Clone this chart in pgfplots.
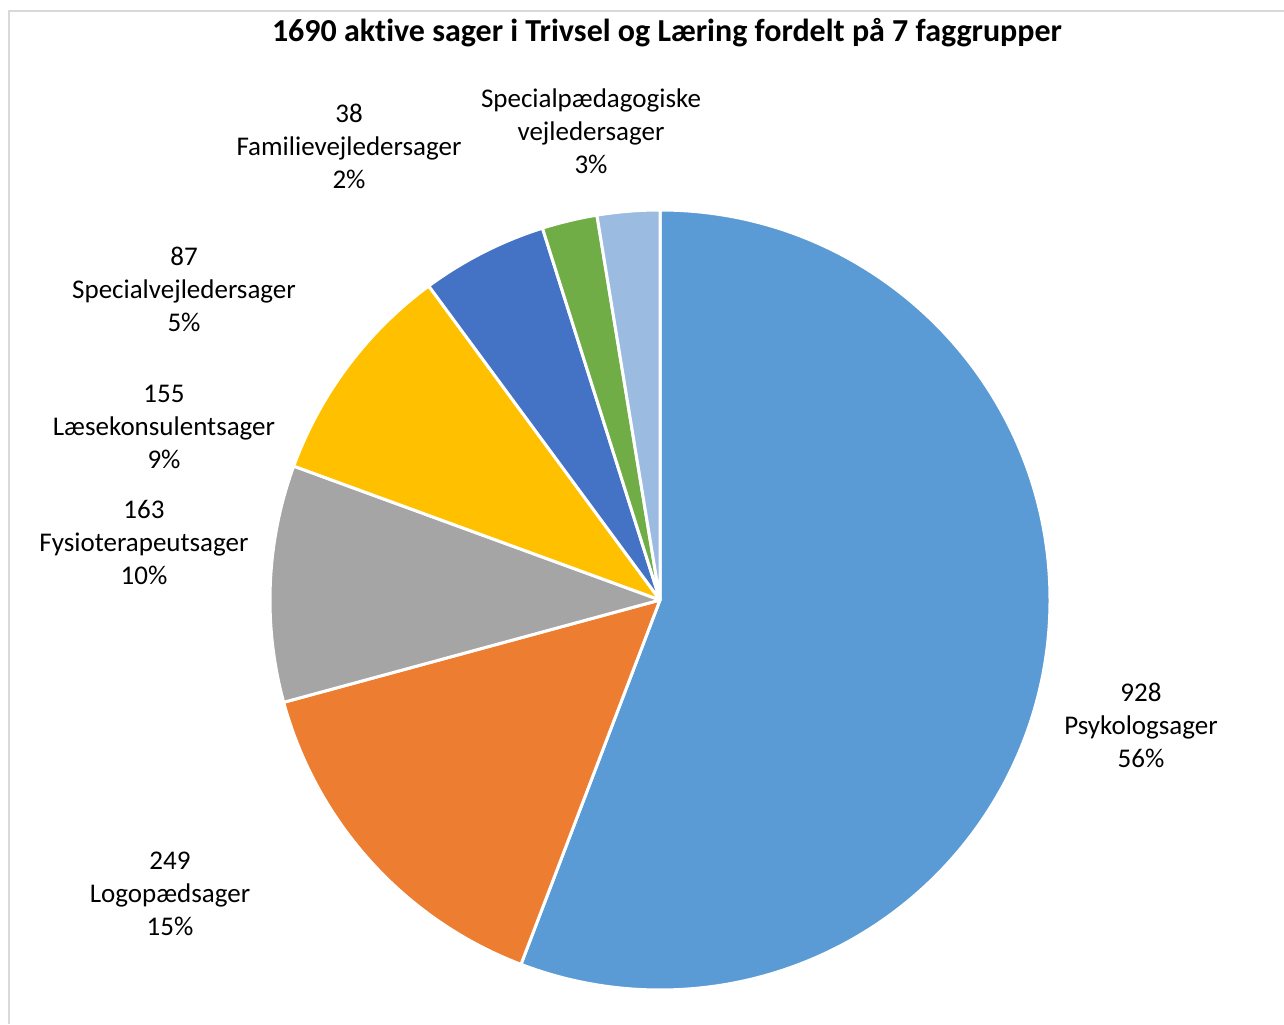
\documentclass[border=0pt]{standalone}
\usepackage{pgfplots}
\usepackage{pgfplotstable}
\pgfplotsset{compat=1.18}
\usetikzlibrary{calc}
\usepackage{fontspec}
\setmainfont{Carlito}[Ligatures=NoCommon]

\definecolor{c0}{HTML}{5B9BD5}
\definecolor{c1}{HTML}{ED7D31}
\definecolor{c2}{HTML}{A5A5A5}
\definecolor{c3}{HTML}{FFC000}
\definecolor{c4}{HTML}{4472C4}
\definecolor{c5}{HTML}{70AD47}
\definecolor{c6}{HTML}{9BBBE1}
\definecolor{frame}{HTML}{D9D9D9}

% antal sager pr. faggruppe, med uret fra kl. 12
\pgfplotstableread{
value
928
249
163
155
87
38
43
}\piedata

% slice angles
\def\total{0}
\pgfplotsforeachungrouped \i in {0,...,6}{%
  \pgfplotstablegetelem{\i}{value}\of\piedata
  \pgfmathsetmacro{\total}{\total+\pgfplotsretval}}
\def\cum{0}
\pgfplotsforeachungrouped \i in {0,...,6}{%
  \pgfplotstablegetelem{\i}{value}\of\piedata
  \pgfmathsetmacro{\a}{90-360*(\cum/\total)}
  \pgfmathsetmacro{\cum}{\cum+\pgfplotsretval}
  \pgfmathsetmacro{\b}{90-360*(\cum/\total)}
  \expandafter\xdef\csname sa\i\endcsname{\a}
  \expandafter\xdef\csname ea\i\endcsname{\b}}

\newcommand{\lbl}{\fontsize{13.5}{16.5}\selectfont}
\newcommand{\slice}[1]{%
  \fill[fill=c#1, draw=white, line width=1.5pt, line join=round]
    (axis cs:0,0) -- (axis cs:{cos(\csname sa#1\endcsname)},{sin(\csname sa#1\endcsname)})
    arc[start angle=\csname sa#1\endcsname, end angle=\csname ea#1\endcsname, radius=195pt]
    -- cycle;}

\begin{document}
\begin{tikzpicture}
\begin{axis}[
    x=195pt, y=195pt,
    xmin=-1.0, xmax=1.0, ymin=-1.0, ymax=1.0,
    hide axis, clip=false,
    name=pie,
]
\addplot[draw=none, forget plot] coordinates {(0,0)};
\slice{0}
\slice{1}
\slice{2}
\slice{3}
\slice{4}
\slice{5}
\slice{6}
\end{axis}

\begin{scope}[x=0.5pt, y=-0.5pt, shift={($(pie.center)+(-660,-600)$)}]
\useasboundingbox (0,0) rectangle (1284,1024);
\draw[frame, line width=1pt] (9,1024) -- (9,11) -- (1284,11);
\node[font=\bfseries\fontsize{16}{19}\selectfont] at (667,33) {1690 aktive sager i Trivsel og Læring fordelt på 7 faggrupper};
\begin{scope}[every node/.style={align=center, font=\lbl, inner sep=0pt}]
\node at (1141,725) {928\\Psykologsager\\56\%};
\node at (170,894) {249\\Logopædsager\\15\%};
\node at (144,542) {163\\Fysioterapeutsager\\10\%};
\node at (164,427) {155\\Læsekonsulentsager\\9\%};
\node at (184,289) {87\\Specialvejledersager\\5\%};
\node at (349,146) {38\\Familievejledersager\\2\%};
\node at (591,131) {Specialpædagogiske\\vejledersager\\3\%};
\end{scope}
\end{scope}
\end{tikzpicture}
\end{document}
